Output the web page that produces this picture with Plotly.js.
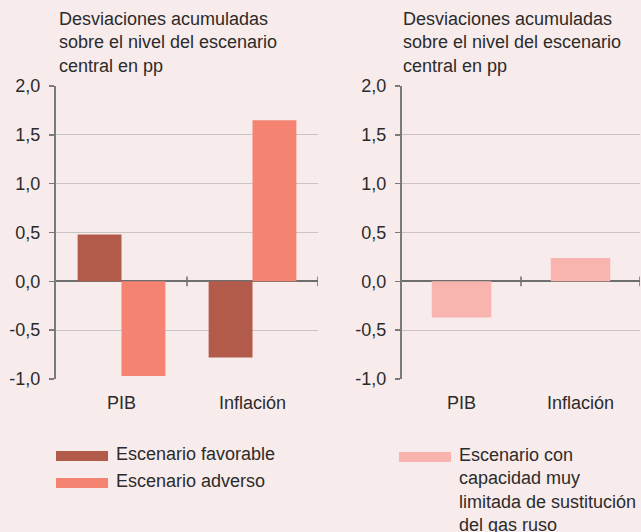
<!DOCTYPE html>
<html>
<head>
<meta charset="utf-8">
<script src="https://cdn.plot.ly/plotly-3.0.1.min.js"></script>
<style>
  body { margin: 0; background: #f8ebeb; }
  #chart { width: 641px; height: 532px; }
</style>
</head>
<body>
<div id="chart"></div>
<script>
// data
var categories = ["PIB", "Inflación"];
var favorable = [0.48, -0.78];
var adverso = [-0.97, 1.65];
var limitada = [-0.37, 0.24];
var seriesNames = ["Escenario favorable", "Escenario adverso",
  "Escenario con<br>capacidad muy<br>limitada de sustitución<br>del gas ruso"];
var yTicks = [-1, -0.5, 0, 0.5, 1, 1.5, 2];
var yTickLabels = ["-1,0", "-0,5", "0,0", "0,5", "1,0", "1,5", "2,0"];
var panelTitle = "Desviaciones acumuladas<br>sobre el nivel del escenario<br>central en pp";

var colFav = "#b35b4b", colAdv = "#f58372", colLim = "#f9b4af";
var bg = "#f8ebeb";
var fontFam = "'Liberation Sans', Arial, sans-serif";
var txt = "#2b2b2b";
var fs = 18;

var traces = [
  { type: "bar", x: categories, y: favorable, name: seriesNames[0],
    marker: { color: colFav }, xaxis: "x", yaxis: "y", showlegend: false, hoverinfo: "skip" },
  { type: "bar", x: categories, y: adverso, name: seriesNames[1],
    marker: { color: colAdv }, xaxis: "x", yaxis: "y", showlegend: false, hoverinfo: "skip" },
  { type: "bar", x: categories, y: limitada, name: seriesNames[2], width: 0.5,
    marker: { color: colLim }, xaxis: "x2", yaxis: "y2", showlegend: false, hoverinfo: "skip" }
];

function yax(anchor) {
  return {
    anchor: anchor, range: [-1, 2], tickvals: yTicks, ticktext: yTickLabels,
    domain: [0.2876, 0.8383],
    showgrid: true, gridcolor: "#c9c4c4", gridwidth: 1,
    zeroline: true, zerolinecolor: "#6e6e6e", zerolinewidth: 2,
    showline: true, linecolor: "#7a7a7a", linewidth: 2,
    ticks: "outside", ticklen: 5, tickcolor: "#7a7a7a", tickwidth: 1.5,
    ticklabelstandoff: 5,
    tickfont: { family: fontFam, size: fs, color: txt }, fixedrange: true
  };
}
function xax(anchor, dom) {
  return {
    anchor: anchor, domain: dom, range: [-0.5, 1.5], type: "category",
    showgrid: false, zeroline: false, showline: false, ticks: "",
    ticklabelstandoff: 11,
    tickfont: { family: fontFam, size: fs, color: txt }, fixedrange: true
  };
}

// small boundary ticks on the zero line
var shapes = [];
[["x", "y"], ["x2", "y2"]].forEach(function (p) {
  [0.5, 1.5].forEach(function (v) {
    shapes.push({ type: "line", xref: p[0], yref: p[1], x0: v, x1: v, y0: -0.05, y1: 0.05,
      line: { color: "#6e6e6e", width: 1.5 } });
  });
});

// legend swatches
var legendItems = [
  { color: colFav, x: 56, y: 456, name: seriesNames[0] },
  { color: colAdv, x: 56, y: 483, name: seriesNames[1] },
  { color: colLim, x: 399, y: 457, name: seriesNames[2] }
];
var W = 641, H = 532;
var annotations = [
  { xref: "paper", yref: "paper", x: 57 / W, y: 1 - 7 / H, xanchor: "left", yanchor: "top",
    align: "left", showarrow: false, text: panelTitle,
    font: { family: fontFam, size: fs, color: txt } },
  { xref: "paper", yref: "paper", x: 401 / W, y: 1 - 7 / H, xanchor: "left", yanchor: "top",
    align: "left", showarrow: false, text: panelTitle,
    font: { family: fontFam, size: fs, color: txt } }
];
legendItems.forEach(function (it) {
  shapes.push({ type: "rect", xref: "paper", yref: "paper",
    x0: it.x / W, x1: (it.x + 52) / W, y0: 1 - (it.y + 5) / H, y1: 1 - (it.y - 5) / H,
    fillcolor: it.color, line: { width: 0 } });
  annotations.push({ xref: "paper", yref: "paper", x: (it.x + 58) / W, y: 1 - (it.y - 14) / H,
    xanchor: "left", yanchor: "top", align: "left", showarrow: false, text: it.name,
    font: { family: fontFam, size: fs, color: txt } });
});

var layout = {
  width: 641, height: 532,
  margin: { l: 0, r: 0, t: 0, b: 0 },
  paper_bgcolor: bg, plot_bgcolor: bg,
  barmode: "group",
  bargap: 0.33, bargroupgap: 0,
  showlegend: false,
  xaxis: xax("y", [56 / W, 318 / W]),
  yaxis: yax("x"),
  xaxis2: xax("y2", [402 / W, 640 / W]),
  yaxis2: yax("x2"),
  shapes: shapes,
  annotations: annotations
};

Plotly.newPlot("chart", traces, layout, { displayModeBar: false, staticPlot: true });
</script>
</body>
</html>
